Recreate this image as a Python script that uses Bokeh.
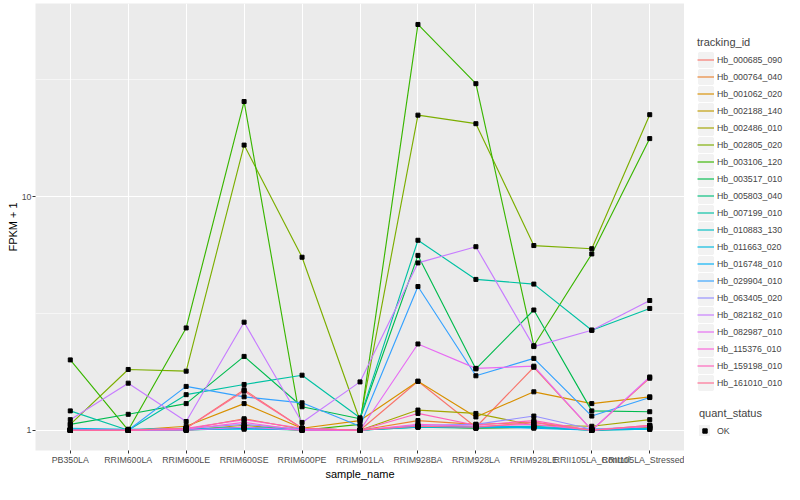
from bokeh.plotting import figure
from bokeh.layouts import row
from bokeh.models import (FactorRange, Range1d, FixedTicker, BasicTickFormatter,
                          Legend, LegendItem, ColumnDataSource)
from bokeh.embed import file_html
from bokeh.resources import INLINE

samples = ["PB350LA", "RRIM600LA", "RRIM600LE", "RRIM600SE", "RRIM600PE",
           "RRIM901LA", "RRIM928BA", "RRIM928LA", "RRIM928LE",
           "RRII105LA_Control", "RRII105LA_Stressed"]

tracking_ids = ["Hb_000685_090", "Hb_000764_040", "Hb_001062_020", "Hb_002188_140",
                "Hb_002486_010", "Hb_002805_020", "Hb_003106_120", "Hb_003517_010",
                "Hb_005803_040", "Hb_007199_010", "Hb_010883_130", "Hb_011663_020",
                "Hb_016748_010", "Hb_029904_010", "Hb_063405_020", "Hb_082182_010",
                "Hb_082987_010", "Hb_115376_010", "Hb_159198_010", "Hb_161010_010"]

colors = ["#F8766D", "#EA8331", "#D89000", "#C09B00", "#A3A500", "#7CAE00", "#39B600",
          "#00BB4E", "#00BF7D", "#00C1A3", "#00BFC4", "#00BAE0", "#00B0F6", "#35A2FF",
          "#9590FF", "#C77CFF", "#E76BF3", "#FA62DB", "#FF62BC", "#FF6C91"]

# FPKM + 1 per sample (order of `samples`)
hb_000685_090 = [1.00, 1.00, 1.02, 1.49, 1.02, 1.00, 1.62, 1.03, 1.86, 1.00, 1.67]
hb_000764_040 = [1.00, 1.00, 1.01, 1.12, 1.01, 1.00, 1.10, 1.06, 1.08, 1.00, 1.03]
hb_001062_020 = [1.00, 1.00, 1.04, 1.30, 1.02, 1.10, 1.62, 1.14, 1.46, 1.30, 1.39]
hb_002188_140 = [1.00, 1.00, 1.00, 1.05, 1.00, 1.00, 1.04, 1.02, 1.03, 1.00, 1.02]
hb_002486_010 = [1.00, 1.00, 1.01, 1.03, 1.00, 1.00, 1.22, 1.18, 1.05, 1.04, 1.11]
hb_002805_020 = [1.06, 1.82, 1.79, 16.6, 5.50, 1.10, 22.3, 20.5, 6.17, 5.98, 22.4]
hb_003106_120 = [2.00, 1.00, 2.74, 25.5, 1.00, 1.06, 54.5, 30.4, 2.30, 5.68, 17.7]
hb_003517_010 = [1.06, 1.17, 1.30, 2.07, 1.26, 1.12, 5.60, 1.83, 3.27, 1.21, 1.20]
hb_005803_040 = [1.00, 1.00, 1.00, 1.02, 1.00, 1.00, 1.03, 1.02, 1.03, 1.00, 1.01]
hb_007199_010 = [1.21, 1.00, 1.42, 1.57, 1.72, 1.13, 6.50, 4.42, 4.22, 2.68, 3.32]
hb_010883_130 = [1.01, 1.00, 1.01, 1.03, 1.01, 1.00, 1.04, 1.03, 1.04, 1.01, 1.02]
hb_011663_020 = [1.02, 1.01, 1.02, 1.02, 1.02, 1.00, 1.03, 1.03, 1.03, 1.01, 1.02]
hb_016748_010 = [1.01, 1.00, 1.01, 1.01, 1.01, 1.00, 1.04, 1.04, 1.02, 1.00, 1.01]
hb_029904_010 = [1.00, 1.00, 1.54, 1.39, 1.31, 1.04, 4.12, 1.71, 2.03, 1.15, 1.38]
hb_063405_020 = [1.00, 1.00, 1.02, 1.06, 1.01, 1.00, 1.05, 1.06, 1.15, 1.01, 1.04]
hb_082182_010 = [1.11, 1.59, 1.09, 2.90, 1.08, 1.61, 5.20, 6.10, 2.28, 2.68, 3.59]
hb_082987_010 = [1.00, 1.00, 1.00, 1.03, 1.00, 1.00, 2.34, 1.84, 1.88, 1.00, 1.69]
hb_115376_010 = [1.00, 1.00, 1.01, 1.08, 1.00, 1.00, 1.06, 1.04, 1.06, 1.00, 1.04]
hb_159198_010 = [1.00, 1.00, 1.02, 1.11, 1.02, 1.00, 1.18, 1.05, 1.10, 1.00, 1.05]
hb_161010_010 = [1.00, 1.00, 1.02, 1.47, 1.02, 1.00, 1.04, 1.03, 1.08, 1.00, 1.05]

series = [hb_000685_090, hb_000764_040, hb_001062_020, hb_002188_140, hb_002486_010,
          hb_002805_020, hb_003106_120, hb_003517_010, hb_005803_040, hb_007199_010,
          hb_010883_130, hb_011663_020, hb_016748_010, hb_029904_010, hb_063405_020,
          hb_082182_010, hb_082987_010, hb_115376_010, hb_159198_010, hb_161010_010]

y_ticks = [1, 10]
y_minor_ticks = [10 ** 0.5, 10 ** 1.5]
quant_status = "OK"

FONT = "Liberation Sans"
H = 484
TOP, BOTTOM = 3, 34

p = figure(x_range=FactorRange(*samples, range_padding=0.1, range_padding_units="absolute"),
           y_axis_type="log", y_range=Range1d(0.819, 67.0),
           frame_width=649, height=H,
           min_border_left=35, min_border_right=0, min_border_top=TOP,
           min_border_bottom=BOTTOM,
           output_backend="svg", toolbar_location=None)

p.background_fill_color = "#EBEBEB"
p.border_fill_color = "white"
p.outline_line_color = None

p.xgrid.grid_line_color = "white"
p.xgrid.grid_line_width = 1.1
p.ygrid.grid_line_color = "white"
p.ygrid.grid_line_width = 1.1
p.ygrid.minor_grid_line_color = "white"
p.ygrid.minor_grid_line_width = 0.55

p.yaxis.ticker = FixedTicker(ticks=y_ticks, minor_ticks=y_minor_ticks)
p.yaxis.formatter = BasicTickFormatter()

for ax in (p.xaxis[0], p.yaxis[0]):
    ax.axis_line_color = None
    ax.major_tick_line_color = "#333333"
    ax.major_tick_out = 3
    ax.major_tick_in = 0
    ax.minor_tick_out = 0
    ax.minor_tick_in = 0
    ax.major_label_text_color = "#4D4D4D"
    ax.major_label_text_font = FONT
    ax.major_label_text_font_size = "8.8px"
    ax.major_label_standoff = 1
    ax.axis_label_text_font = FONT
    ax.axis_label_text_font_size = "11px"
    ax.axis_label_text_font_style = "normal"
    ax.axis_label_text_color = "black"
    ax.axis_label_standoff = 0

p.xaxis.axis_label = "sample_name"
p.yaxis.axis_label = "FPKM + 1"

all_x, all_y = [], []
for col, vals in zip(colors, series):
    src = ColumnDataSource(dict(x=samples, y=vals))
    p.line("x", "y", source=src, line_color=col, line_width=1.15)
    all_x.extend(samples)
    all_y.extend(vals)

p.scatter(all_x, all_y, marker="square", size=4, color="black")

# ---- legend panel (separate figure to the right) ----
lf = figure(width=100, height=H, x_range=Range1d(0, 1), y_range=Range1d(0, 1),
            min_border_left=0, min_border_right=0, min_border_top=TOP,
            min_border_bottom=BOTTOM, x_axis_location=None, y_axis_location=None,
            output_backend="svg", toolbar_location=None)
lf.outline_line_color = None
lf.grid.visible = False
lf.background_fill_color = "white"
lf.border_fill_color = "white"

# legend-only renderers, placed outside the visible range of this panel
off = [-10.0, -9.0]
key_bg = lf.rect(x=off[:1], y=off[:1], width=0.1, height=0.1, fill_color="#F2F2F2",
                 line_color="#F2F2F2", line_width=2.4)
key_bg2 = lf.rect(x=off[:1], y=off[:1], width=0.1, height=0.1, fill_color="#F2F2F2",
                  line_color="#F2F2F2", line_width=7.5)
items = []
for tid, col in zip(tracking_ids, colors):
    r = lf.line(x=off, y=off, line_color=col, line_width=1.15)
    items.append(LegendItem(label=tid, renderers=[key_bg, r]))
ok_r = lf.scatter(x=off[:1], y=off[:1], marker="square", color="black")

common = dict(spacing=0, padding=0,
              margin=0, border_line_color=None, background_fill_alpha=0,
              label_text_font=FONT, label_text_font_size="8.8px", label_height=17,
              title_text_font=FONT, title_text_font_size="11px",
              title_text_font_style="normal", title_standoff=3)

leg1 = Legend(items=items, title="tracking_id", location=(13, 59),
              glyph_width=17, glyph_height=17, label_standoff=3, **common)
leg2 = Legend(items=[LegendItem(label=quant_status, renderers=[key_bg2, ok_r])],
              title="quant_status", location=(15, 11),
              glyph_width=11, glyph_height=11, label_standoff=7, **common)
lf.add_layout(leg1)
lf.add_layout(leg2)

layout = row(p, lf)
open("out.html", "w").write(file_html(layout, INLINE))
